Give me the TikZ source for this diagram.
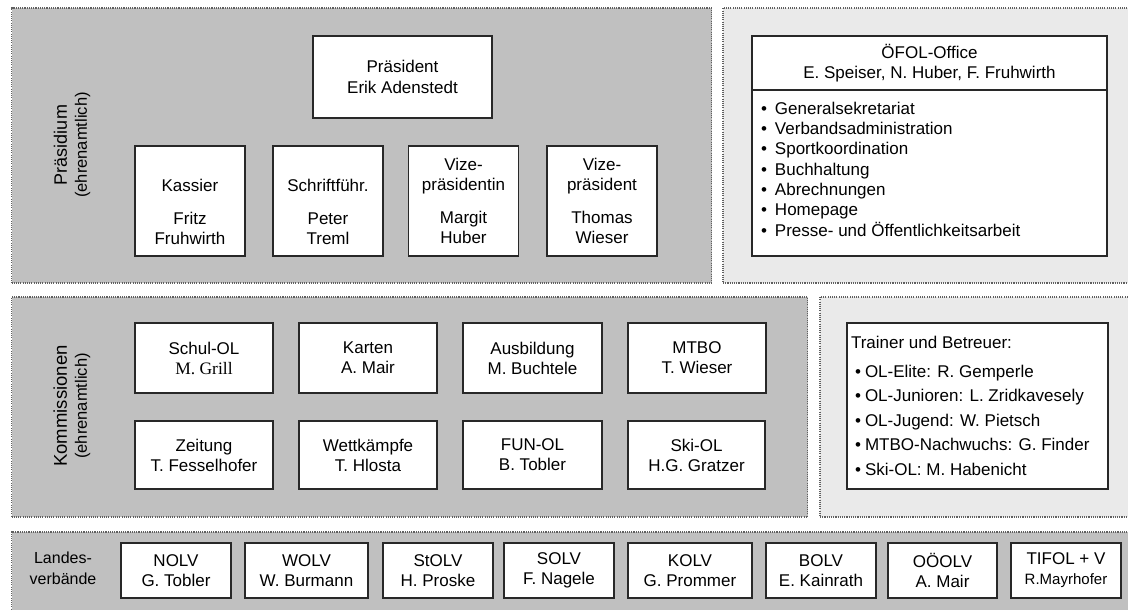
\documentclass[tikz,border=0pt]{standalone}
\usepackage{fontspec}
\setmainfont{Liberation Sans}
\newfontfamily\timesfont{Liberation Serif}
\definecolor{paneldark}{RGB}{192,192,192}
\definecolor{panellight}{RGB}{234,234,234}
\definecolor{framegray}{RGB}{95,95,95}
\definecolor{boxline}{RGB}{40,40,40}
\newcommand{\officebul}{\makebox[14pt][l]{•}}
\newcommand{\trainbul}{\makebox[10pt][l]{•}}
\begin{document}
\begin{tikzpicture}[x=1pt,y=-1pt,
  every node/.style={font=\fontsize{17}{20}\selectfont, inner sep=0pt, outer sep=0pt},
  panel/.style={draw=framegray, line width=1.1pt, dash pattern=on 1.1pt off 1.1pt, anchor=north west},
  darkpanel/.style={panel, fill=paneldark},
  lightpanel/.style={panel, fill=panellight},
  box/.style={draw=boxline, fill=white, line width=1.3pt, align=center},
  sidelabel/.style={align=center, rotate=90},
]
\path[use as bounding box, clip] (0,0) rectangle (1128,610);

% panels
\node[darkpanel, minimum width=700pt, minimum height=275pt] (praespanel) at (11.5,8) {};
\node[lightpanel, minimum width=420pt, minimum height=275pt] (officepanel) at (723,8) {};
\node[darkpanel, minimum width=796pt, minimum height=220pt] (kommpanel) at (11.5,297) {};
\node[lightpanel, minimum width=320pt, minimum height=220pt] (trainerpanel) at (820,297) {};
\node[darkpanel, minimum width=1130pt, minimum height=90pt] (landespanel) at (11.5,532) {};

% side labels
\node[sidelabel] (praeslabel) at (72,145) {{\fontsize{18}{20}\selectfont Präsidium}\\{\fontsize{16.5}{20}\selectfont (ehrenamtlich)}};
\node[sidelabel] (kommlabel) at (72,406) {{\fontsize{18.5}{20}\selectfont Kommissionen}\\{\fontsize{16.5}{20}\selectfont (ehrenamtlich)}};
\node[align=center, font=\fontsize{16}{21}\selectfont] (landeslabel) at (63,568) {Landes-\\verbände};

% Praesidium
\node[box, minimum width=179pt, minimum height=82pt] (praesident) at (402.5,77) {Präsident\\[1pt]Erik Adenstedt};
\node[box, minimum width=110pt, minimum height=110pt] (kassier) at (190,201) {\strut\\Kassier\\[13pt]Fritz\\Fruhwirth};
\node[box, minimum width=110pt, minimum height=110pt] (schrift) at (328,201) {\strut\\Schriftführ.\\[13pt]Peter\\Treml};
\node[box, minimum width=110pt, minimum height=110pt] (vizein) at (463.5,201) {Vize-\\präsidentin\\[13pt]Margit\\Huber};
\node[box, minimum width=110pt, minimum height=110pt] (vize) at (602,201) {Vize-\\präsident\\[13pt]Thomas\\Wieser};

% Office
\node[box, minimum width=355pt, minimum height=54pt] (officehead) at (929.5,63) {ÖFOL-Office\\E. Speiser, N. Huber, F. Fruhwirth};
\node[box, minimum width=355pt, minimum height=166pt] (officebody) at (929.5,173) {};
\draw[boxline, line width=2.2pt] (officehead.south west) -- (officehead.south east);
\node[anchor=west, align=left, font=\fontsize{17}{20.33}\selectfont] (officelist) at (761,169)
  {\officebul Generalsekretariat\\\officebul Verbandsadministration\\\officebul Sportkoordination\\\officebul Buchhaltung\\\officebul Abrechnungen\\\officebul Homepage\\\officebul Presse- und Öffentlichkeitsarbeit};

% Kommissionen
\node[box, minimum width=138pt, minimum height=70pt] (schulol) at (204,358) {Schul-OL\\{\timesfont\fontsize{17.5}{20}\selectfont M. Grill}};
\node[box, minimum width=138pt, minimum height=70pt] (karten) at (368,358) {Karten\\A. Mair};
\node[box, minimum width=139pt, minimum height=70pt] (ausbildung) at (532.5,358) {Ausbildung\\M. Buchtele};
\node[box, minimum width=138pt, minimum height=70pt] (mtbo) at (697,358) {MTBO\\T. Wieser};
\node[box, minimum width=138pt, minimum height=68pt] (zeitung) at (204,455) {Zeitung\\T. Fesselhofer};
\node[box, minimum width=138pt, minimum height=68pt] (wettkampf) at (368,455) {Wettkämpfe\\T. Hlosta};
\node[box, minimum width=139pt, minimum height=68pt] (funol) at (532.5,455) {FUN-OL\\B. Tobler};
\node[box, minimum width=137pt, minimum height=68pt] (skiol) at (696.5,455) {Ski-OL\\H.G. Gratzer};

% Trainer
\node[box, minimum width=261pt, minimum height=166pt] (trainer) at (977.5,406) {};
\node[anchor=west] (trainertitle) at (851,342) {Trainer und Betreuer:};
\node[anchor=west, align=left, font=\fontsize{17}{24.5}\selectfont] (trainerlist) at (855,420)
  {\trainbul OL-Elite: R. Gemperle\\\trainbul OL-Junioren: L. Zridkavesely\\\trainbul OL-Jugend: W. Pietsch\\\trainbul MTBO-Nachwuchs: G. Finder\\\trainbul Ski-OL: M. Habenicht};

% Landesverbaende
\node[box, minimum width=110pt, minimum height=55pt] (nolv) at (176,570.5) {NOLV\\G. Tobler};
\node[box, minimum width=123pt, minimum height=55pt] (wolv) at (306.5,570.5) {WOLV\\W. Burmann};
\node[box, minimum width=110pt, minimum height=55pt] (stolv) at (438,570.5) {StOLV\\H. Proske};
\node[box, minimum width=110pt, minimum height=55pt] (solv) at (559,570.5) {SOLV\\F. Nagele};
\node[box, minimum width=124pt, minimum height=55pt] (kolv) at (690,570.5) {KOLV\\G. Prommer};
\node[box, minimum width=110pt, minimum height=55pt] (bolv) at (821,570.5) {BOLV\\E. Kainrath};
\node[box, minimum width=109pt, minimum height=55pt] (ooolv) at (942.5,570.5) {OÖOLV\\A. Mair};
\node[box, minimum width=110pt, minimum height=55pt] (tifol) at (1066,570.5) {TIFOL + V\\{\fontsize{15}{20}\selectfont R.Mayrhofer}};
\end{tikzpicture}
\end{document}
